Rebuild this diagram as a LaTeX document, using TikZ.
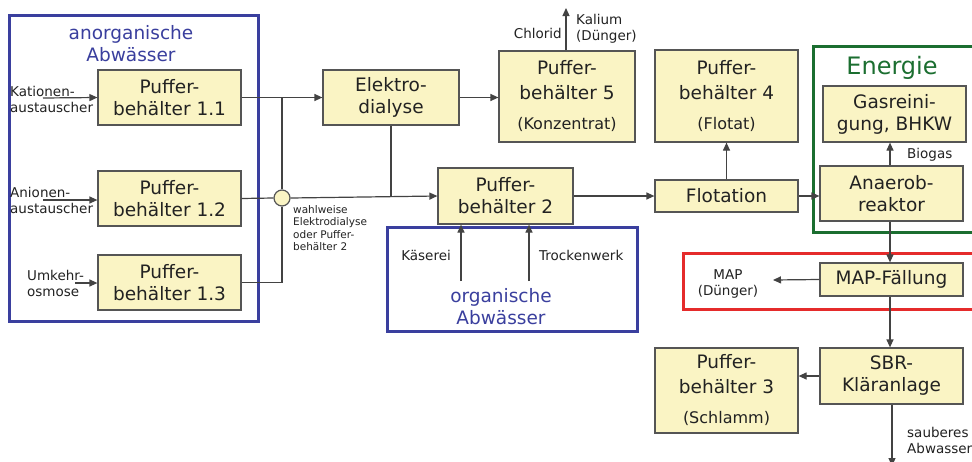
\documentclass[tikz,border=0pt]{standalone}
\usepackage{fontspec}
\setmainfont{DejaVu Sans}
\usetikzlibrary{arrows.meta}
\definecolor{boxfill}{HTML}{FAF4C4}
\definecolor{boxline}{HTML}{555555}
\definecolor{lblue}{HTML}{3A3F9E}
\definecolor{lgreen}{HTML}{1B6E30}
\definecolor{lred}{HTML}{E52B2B}
\definecolor{ink}{HTML}{222222}
\tikzset{
  bx/.style={draw=boxline, fill=boxfill, line width=1.2pt, inner sep=0pt, align=center,
    text=ink, font=\fontsize{18.5}{22}\selectfont},
  bxthree/.style={bx, font=\fontsize{18.5}{25}\selectfont},
  small/.style={font=\fontsize{13.5}{16}\selectfont, text=ink, inner sep=0pt},
  tiny/.style={font=\fontsize{10.5}{12.5}\selectfont, text=ink, inner sep=0pt, align=left},
  ln/.style={draw=ink!85, line width=1.2pt},
  arr/.style={ln, -{Triangle[length=8pt,width=7pt]}},
  group/.style={line width=3pt},
  title/.style={font=\fontsize{18.5}{22}\selectfont, inner sep=0pt, align=center}
}
\newcommand{\sub}[1]{\\[5pt]{\fontsize{16}{20}\selectfont #1}}
\begin{document}
\begin{tikzpicture}[x=1pt,y=-1pt]
\useasboundingbox (0,0) rectangle (972,461);
\clip (0,0) rectangle (972,461);
\fill[white] (0,0) rectangle (972,461);
% group frames
\draw[group, draw=lblue] (9,15) rectangle (258,321);
\draw[group, draw=lblue] (387,227) rectangle (637,331);
\draw[group, draw=lgreen] (813,46) rectangle (978,232);
\draw[group, draw=lred] (683,253) rectangle (978,309);
\node[title, text=lblue] (tanorg) at (131,44) {anorganische\\Abwässer};
\node[title, text=lblue] (torg) at (501,307) {organische\\Abwässer};
\node[font=\fontsize{24}{26}\selectfont, text=lgreen, inner sep=0pt] (tener) at (892,68) {Energie};
% boxes
\node[bx, minimum width=143pt, minimum height=55pt] (P11) at (169.5,97.5) {Puffer-\\behälter 1.1};
\node[bx, minimum width=143pt, minimum height=55pt] (P12) at (169.5,198.5) {Puffer-\\behälter 1.2};
\node[bx, minimum width=143pt, minimum height=55pt] (P13) at (169.5,282.5) {Puffer-\\behälter 1.3};
\node[bx, minimum width=136pt, minimum height=55pt] (ED) at (391,97.5) {Elektro-\\dialyse};
\node[bxthree, minimum width=136pt, minimum height=91pt] (P5) at (567,96.5) {Puffer-\\behälter 5\sub{(Konzentrat)}};
\node[bx, minimum width=135pt, minimum height=56pt] (P2) at (505.5,196) {Puffer-\\behälter 2};
\node[bxthree, minimum width=143pt, minimum height=92pt] (P4) at (726.5,96) {Puffer-\\behälter 4\sub{(Flotat)}};
\node[bx, minimum width=143pt, minimum height=32pt] (FL) at (726.5,196) {Flotation};
\node[bx, minimum width=143pt, minimum height=56pt] (GAS) at (894.5,114) {Gasreini-\\gung, BHKW};
\node[bx, minimum width=143pt, minimum height=55pt] (ANA) at (891.5,193.5) {Anaerob-\\reaktor};
\node[bx, minimum width=143pt, minimum height=33pt] (MAP) at (891.5,279.5) {MAP-Fällung};
\node[bx, minimum width=143pt, minimum height=56pt] (SBR) at (891.5,376) {SBR-\\Kläranlage};
\node[bxthree, minimum width=143pt, minimum height=85pt] (P3) at (726.5,390.5) {Puffer-\\behälter 3\sub{(Schlamm)}};
\node[circle, draw=boxline, fill=boxfill, line width=1.2pt, minimum size=16pt, inner sep=0pt] (C) at (282,198) {};
% input labels
\node[small, align=left, anchor=west] (lkat) at (10,99) {Kationen-\\austauscher};
\node[small, align=left, anchor=west] (lani) at (10,200.5) {Anionen-\\austauscher};
\node[small, align=left, anchor=west] (lumk) at (27,283) {Umkehr-\\osmose};
\coordinate (ikat) at (43,98);
\coordinate (iani) at (43,200);
\coordinate (iumk) at (75,283);
\draw[arr] (ikat) -- (P11.west);
\draw[arr] (iani) -- (P12.west |- iani);
\draw[arr] (iumk) -- (P13.west |- iumk);
% collectors
\draw[arr] (P11.east) -- (ED.west);
\draw[ln] (P11.east -| C) -- (C.north);
\draw[ln] (C.south) -- (P13.east -| C) -- (P13.east);
\draw[ln] (P12.east) -- (C.west);
\draw[arr] (C.east) -- (P2.west);
\draw[ln] (ED.south) -- (ED.south |- P2.west);
\node[tiny, anchor=north west] (lwahl) at (293,205) {wahlweise\\Elektrodialyse\\oder Puffer-\\behälter 2};
% Elektrodialyse -> P5
\draw[arr] (ED.east) -- (P5.west |- ED.east);
\coordinate (kal) at (566,8);
\draw[arr] (P5.north -| kal) -- (kal);
\node[small, anchor=east] (lchl) at (562,33) {Chlorid};
\node[small, align=left, anchor=west] (lkal) at (576,29) {Kalium\\(Dünger)};
% organic inputs
\coordinate (ik) at (461,281);
\coordinate (it) at (529,281);
\draw[arr] (ik) -- (ik |- P2.south);
\draw[arr] (it) -- (it |- P2.south);
\node[small, anchor=east] (lkas) at (451,255) {Käserei};
\node[small, anchor=west] (ltro) at (539,255) {Trockenwerk};
% flotation etc.
\draw[arr] (P2.east) -- (FL.west);
\draw[arr] (FL.north) -- (P4.south);
\draw[arr] (FL.east) -- (ANA.west |- FL.east);
\coordinate (bio) at (890,166);
\draw[arr] (ANA.north -| bio) -- (GAS.south -| bio);
\node[small, anchor=west] (lbio) at (907,155) {Biogas};
\draw[arr] (ANA.south -| bio) -- (MAP.north -| bio);
\coordinate (mapo) at (773,280);
\draw[arr] (MAP.west) -- (mapo);
\node[small, align=center] (lmap) at (728,284) {MAP\\(Dünger)};
\draw[arr] (MAP.south -| bio) -- (SBR.north -| bio);
\draw[arr] (SBR.west) -- (P3.east |- SBR.west);
\coordinate (sab) at (892,466);
\draw[arr] (SBR.south -| sab) -- (sab);
\node[small, align=left, anchor=west] (lsab) at (907,440) {sauberes\\Abwasser};
\end{tikzpicture}
\end{document}
